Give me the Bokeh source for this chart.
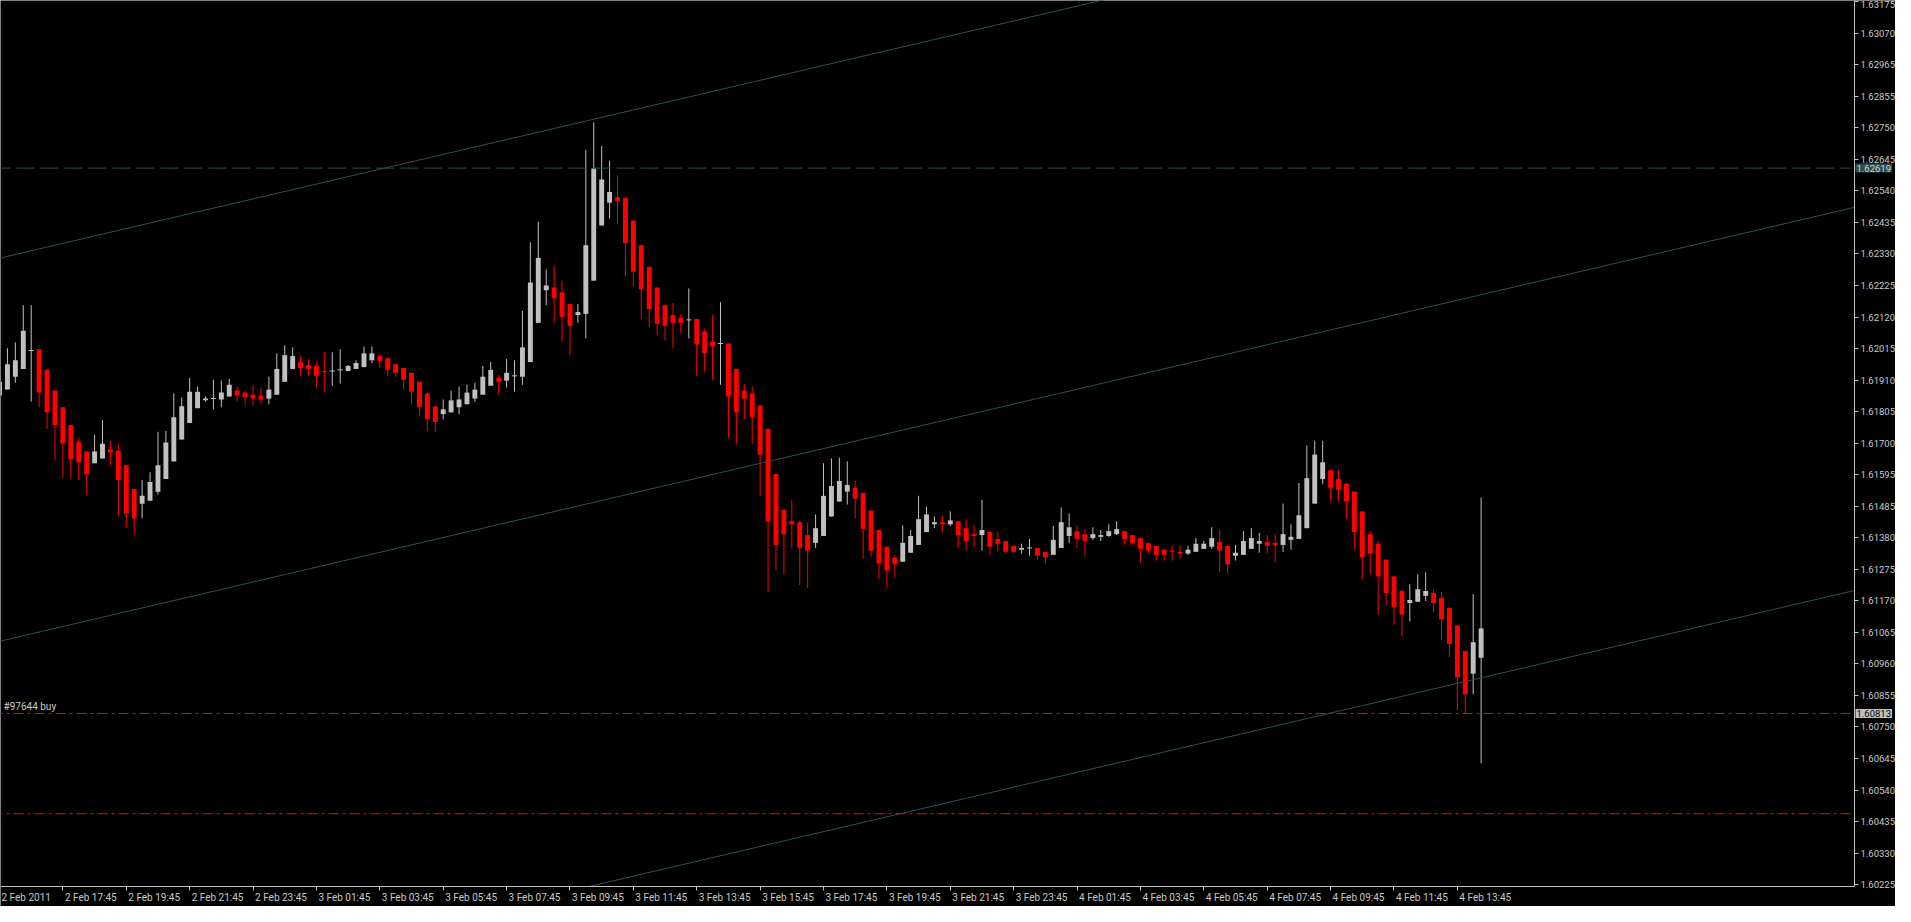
import numpy as np
import pandas as pd
from bokeh.plotting import figure
from bokeh.models import Range1d, FixedTicker, Label, LinearAxis
from bokeh.embed import file_html
from bokeh.resources import INLINE

# ---------------- data (M15 bars) ----------------
first_bar_time = "2011-02-02 15:45"
bar_freq = "15min"

opens = [1.61859, 1.61879, 1.61922, 1.61948, 1.62010, 1.62013, 1.61945, 1.61876, 1.61820, 1.61761,
         1.61705, 1.61672, 1.61633, 1.61649, 1.61679, 1.61675, 1.61626, 1.61547, 1.61498, 1.61508,
         1.61538, 1.61580, 1.61639, 1.61712, 1.61767, 1.61817, 1.61843, 1.61849, 1.61846, 1.61856,
         1.61876, 1.61869, 1.61862, 1.61859, 1.61849, 1.61862, 1.61905, 1.61948, 1.61971, 1.61961,
         1.61958, 1.61941, 1.61941, 1.61945, 1.61941, 1.61948, 1.61954, 1.61977, 1.61991, 1.61984,
         1.61964, 1.61951, 1.61935, 1.61905, 1.61866, 1.61823, 1.61797, 1.61803, 1.61820, 1.61830,
         1.61849, 1.61862, 1.61892, 1.61918, 1.61909, 1.61925, 1.61922, 1.61971, 1.62102, 1.62211,
         1.62220, 1.62204, 1.62165, 1.62128, 1.62132, 1.62243, 1.62427, 1.62503, 1.62522, 1.62519,
         1.62444, 1.62361, 1.62289, 1.62220, 1.62161, 1.62128, 1.62119, 1.62112, 1.62115, 1.62073,
         1.62040, 1.62033, 1.62033, 1.61948, 1.61876, 1.61866, 1.61826, 1.61748, 1.61597, 1.61478,
         1.61439, 1.61436, 1.61393, 1.61367, 1.61390, 1.61455, 1.61505, 1.61538, 1.61551, 1.61534,
         1.61475, 1.61410, 1.61354, 1.61318, 1.61304, 1.61334, 1.61360, 1.61403, 1.61429, 1.61436,
         1.61429, 1.61439, 1.61416, 1.61396, 1.61393, 1.61403, 1.61380, 1.61373, 1.61357, 1.61344,
         1.61350, 1.61350, 1.61337, 1.61327, 1.61350, 1.61390, 1.61406, 1.61396, 1.61383, 1.61387,
         1.61390, 1.61396, 1.61406, 1.61393, 1.61383, 1.61367, 1.61357, 1.61344, 1.61341, 1.61337,
         1.61331, 1.61337, 1.61347, 1.61354, 1.61370, 1.61357, 1.61324, 1.61327, 1.61347, 1.61364,
         1.61370, 1.61367, 1.61360, 1.61377, 1.61380, 1.61416, 1.61498, 1.61580, 1.61610, 1.61580,
         1.61564, 1.61538, 1.61472, 1.61396, 1.61364, 1.61311, 1.61255, 1.61206, 1.61166, 1.61170,
         1.61190, 1.61199, 1.61183, 1.61150, 1.61091, 1.61006, 1.60930, 1.60983]

highs = [1.61931, 1.62017, 1.62037, 1.62161, 1.62161, 1.62013, 1.61945, 1.61876, 1.61820, 1.61761,
         1.61718, 1.61672, 1.61728, 1.61777, 1.61708, 1.61698, 1.61626, 1.61547, 1.61577, 1.61603,
         1.61738, 1.61741, 1.61866, 1.61853, 1.61918, 1.61889, 1.61856, 1.61912, 1.61909, 1.61915,
         1.61889, 1.61876, 1.61892, 1.61886, 1.61922, 1.62000, 1.62027, 1.62020, 1.61991, 1.61981,
         1.61971, 1.62004, 1.62004, 1.62013, 1.61961, 1.61977, 1.62023, 1.62023, 1.61997, 1.61984,
         1.61964, 1.61951, 1.61935, 1.61905, 1.61866, 1.61823, 1.61846, 1.61876, 1.61889, 1.61895,
         1.61902, 1.61958, 1.61971, 1.61928, 1.61981, 1.61977, 1.62142, 1.62371, 1.62440, 1.62280,
         1.62293, 1.62243, 1.62165, 1.62165, 1.62680, 1.62772, 1.62693, 1.62644, 1.62595, 1.62519,
         1.62444, 1.62361, 1.62289, 1.62220, 1.62161, 1.62168, 1.62132, 1.62217, 1.62115, 1.62083,
         1.62128, 1.62171, 1.62033, 1.61948, 1.61899, 1.61889, 1.61826, 1.61748, 1.61597, 1.61478,
         1.61511, 1.61439, 1.61436, 1.61462, 1.61633, 1.61649, 1.61652, 1.61639, 1.61574, 1.61534,
         1.61475, 1.61410, 1.61354, 1.61327, 1.61426, 1.61410, 1.61524, 1.61488, 1.61455, 1.61459,
         1.61472, 1.61439, 1.61446, 1.61426, 1.61511, 1.61403, 1.61403, 1.61373, 1.61357, 1.61364,
         1.61380, 1.61350, 1.61337, 1.61423, 1.61485, 1.61465, 1.61426, 1.61413, 1.61419, 1.61410,
         1.61429, 1.61439, 1.61406, 1.61393, 1.61383, 1.61367, 1.61357, 1.61347, 1.61357, 1.61357,
         1.61357, 1.61383, 1.61373, 1.61419, 1.61410, 1.61357, 1.61360, 1.61406, 1.61416, 1.61400,
         1.61393, 1.61396, 1.61498, 1.61429, 1.61567, 1.61692, 1.61708, 1.61708, 1.61610, 1.61610,
         1.61567, 1.61538, 1.61472, 1.61406, 1.61373, 1.61311, 1.61255, 1.61209, 1.61229, 1.61262,
         1.61268, 1.61212, 1.61203, 1.61150, 1.61091, 1.61006, 1.61196, 1.61518]

lows = [1.61849, 1.61879, 1.61902, 1.61948, 1.61839, 1.61820, 1.61748, 1.61643, 1.61583, 1.61583,
        1.61577, 1.61528, 1.61633, 1.61649, 1.61626, 1.61455, 1.61416, 1.61393, 1.61449, 1.61508,
        1.61528, 1.61580, 1.61639, 1.61712, 1.61767, 1.61817, 1.61839, 1.61813, 1.61820, 1.61856,
        1.61839, 1.61830, 1.61826, 1.61833, 1.61830, 1.61862, 1.61905, 1.61948, 1.61925, 1.61925,
        1.61886, 1.61872, 1.61892, 1.61899, 1.61941, 1.61948, 1.61954, 1.61968, 1.61951, 1.61925,
        1.61922, 1.61879, 1.61830, 1.61790, 1.61741, 1.61738, 1.61780, 1.61803, 1.61797, 1.61830,
        1.61839, 1.61862, 1.61892, 1.61862, 1.61886, 1.61872, 1.61895, 1.61971, 1.62102, 1.62161,
        1.62102, 1.62040, 1.61994, 1.62102, 1.62050, 1.62243, 1.62427, 1.62450, 1.62431, 1.62256,
        1.62224, 1.62115, 1.62089, 1.62060, 1.62043, 1.62017, 1.62066, 1.62050, 1.61925, 1.61938,
        1.61912, 1.61895, 1.61718, 1.61695, 1.61780, 1.61698, 1.61524, 1.61203, 1.61275, 1.61262,
        1.61350, 1.61226, 1.61216, 1.61350, 1.61390, 1.61455, 1.61505, 1.61495, 1.61449, 1.61314,
        1.61321, 1.61245, 1.61216, 1.61252, 1.61304, 1.61334, 1.61360, 1.61403, 1.61416, 1.61403,
        1.61423, 1.61350, 1.61341, 1.61354, 1.61341, 1.61327, 1.61341, 1.61331, 1.61331, 1.61331,
        1.61324, 1.61311, 1.61298, 1.61327, 1.61350, 1.61367, 1.61350, 1.61324, 1.61377, 1.61373,
        1.61387, 1.61393, 1.61360, 1.61360, 1.61301, 1.61331, 1.61308, 1.61308, 1.61308, 1.61314,
        1.61327, 1.61337, 1.61347, 1.61347, 1.61268, 1.61265, 1.61308, 1.61327, 1.61347, 1.61334,
        1.61331, 1.61301, 1.61337, 1.61344, 1.61380, 1.61416, 1.61498, 1.61564, 1.61505, 1.61505,
        1.61446, 1.61344, 1.61245, 1.61262, 1.61127, 1.61157, 1.61094, 1.61055, 1.61104, 1.61170,
        1.61173, 1.61134, 1.61042, 1.60986, 1.60809, 1.60799, 1.60861, 1.60631]

closes = [1.61905, 1.61964, 1.61977, 1.62076, 1.62010, 1.61869, 1.61803, 1.61761, 1.61698, 1.61646,
          1.61636, 1.61597, 1.61672, 1.61698, 1.61669, 1.61577, 1.61465, 1.61449, 1.61524, 1.61570,
          1.61626, 1.61702, 1.61787, 1.61823, 1.61872, 1.61872, 1.61849, 1.61849, 1.61869, 1.61895,
          1.61859, 1.61853, 1.61849, 1.61846, 1.61879, 1.61948, 1.61994, 1.61991, 1.61951, 1.61948,
          1.61925, 1.61938, 1.61941, 1.61945, 1.61958, 1.61968, 1.62000, 1.62000, 1.61974, 1.61945,
          1.61935, 1.61912, 1.61872, 1.61820, 1.61780, 1.61771, 1.61813, 1.61843, 1.61846, 1.61869,
          1.61879, 1.61922, 1.61945, 1.61905, 1.61935, 1.61925, 1.62020, 1.62237, 1.62319, 1.62227,
          1.62184, 1.62122, 1.62092, 1.62138, 1.62361, 1.62618, 1.62581, 1.62539, 1.62509, 1.62368,
          1.62273, 1.62214, 1.62148, 1.62099, 1.62092, 1.62102, 1.62102, 1.62112, 1.62030, 1.62000,
          1.62023, 1.62033, 1.61856, 1.61803, 1.61849, 1.61787, 1.61662, 1.61439, 1.61360, 1.61396,
          1.61429, 1.61350, 1.61341, 1.61416, 1.61524, 1.61557, 1.61574, 1.61560, 1.61515, 1.61413,
          1.61341, 1.61298, 1.61275, 1.61295, 1.61367, 1.61390, 1.61446, 1.61462, 1.61436, 1.61429,
          1.61442, 1.61393, 1.61373, 1.61390, 1.61410, 1.61354, 1.61364, 1.61337, 1.61337, 1.61350,
          1.61350, 1.61324, 1.61318, 1.61377, 1.61436, 1.61419, 1.61380, 1.61373, 1.61396, 1.61393,
          1.61406, 1.61413, 1.61380, 1.61367, 1.61347, 1.61341, 1.61327, 1.61327, 1.61337, 1.61331,
          1.61344, 1.61364, 1.61364, 1.61383, 1.61341, 1.61295, 1.61334, 1.61373, 1.61383, 1.61373,
          1.61357, 1.61360, 1.61396, 1.61387, 1.61459, 1.61583, 1.61662, 1.61636, 1.61551, 1.61544,
          1.61505, 1.61403, 1.61318, 1.61331, 1.61255, 1.61199, 1.61153, 1.61127, 1.61176, 1.61212,
          1.61206, 1.61166, 1.61111, 1.61029, 1.60917, 1.60861, 1.61035, 1.61081]

price_tick_labels = ["1.63175", "1.63070", "1.62965", "1.62855", "1.62750", "1.62645", "1.62540",
                     "1.62435", "1.62330", "1.62225", "1.62120", "1.62015", "1.61910", "1.61805",
                     "1.61700", "1.61595", "1.61485", "1.61380", "1.61275", "1.61170", "1.61065",
                     "1.60960", "1.60855", "1.60750", "1.60645", "1.60540", "1.60435", "1.60330",
                     "1.60225"]

# regression channel: middle line anchors and half width
channel_anchor_bars = [0, 187]
channel_mid_prices = [1.61038, 1.62196]
channel_half_width = 0.01280

# horizontal levels
dashed_level = 1.62619
dashed_level_text = "1.62619"
order_level = 1.60797
order_level_text = "1.60813"
order_label = "#97644 buy"
stop_level = 1.60462

# ---------------- layout / styling ----------------
W, H = 1895, 906
PRICE_AXIS_PX = 41          # room right of the price axis for its labels
view_bar_min = 0.125
axis_bar = 234.125          # bar position where the price axis is drawn
px_per_bar = (W - PRICE_AXIS_PX) / (axis_bar - view_bar_min)
view_bar_max = view_bar_min + W / px_per_bar
view_price_min, view_price_max = 1.60152, 1.63179
axis_price = 1.60218        # price where the time axis is drawn

BG = "#000000"
BULL = "#C0C0C0"
BEAR = "#FF0000"
AXIS = "#C0C0C0"
TEXT = "#C8C8C8"
CHANNEL = "#2F4F4F"
FONT = "Roboto"
FS = "10px"
FS_PRICE = "9.5px"

n = len(opens)
bars = np.arange(n)
o = np.array(opens); h = np.array(highs); l = np.array(lows); c = np.array(closes)
colors = [BULL if cc >= oo else BEAR for oo, cc in zip(o, c)]

p = figure(width=W, height=H, output_backend="svg", toolbar_location=None,
           x_range=Range1d(view_bar_min, view_bar_max),
           y_range=Range1d(view_price_min, view_price_max),
           x_axis_location=None, y_axis_location=None,
           background_fill_color=BG, border_fill_color=BG,
           outline_line_color=None, min_border=0)
p.grid.visible = False

# candles
px_price = (view_price_max - view_price_min) / H
mid = (o + c) / 2
top = np.maximum(o, c)
bot = np.minimum(o, c)
small = (top - bot) < px_price
top = np.where(small, mid + px_price / 2, top)
bot = np.where(small, mid - px_price / 2, bot)

p.segment(x0=bars, y0=l, x1=bars, y1=h, line_color=colors, line_width=1)
p.vbar(x=bars, width=0.62, top=top, bottom=bot, fill_color=colors, line_color=None)

# channel lines (kept inside the axes box)
slope = (channel_mid_prices[1] - channel_mid_prices[0]) / (channel_anchor_bars[1] - channel_anchor_bars[0])
for off in (-channel_half_width, 0.0, channel_half_width):
    base = channel_mid_prices[0] + off
    x_start = view_bar_min - 1
    x_hit = channel_anchor_bars[0] + (axis_price - base) / slope
    x_start = max(x_start, x_hit)
    xs = np.array([x_start, axis_bar])
    p.line(xs, base + slope * (xs - channel_anchor_bars[0]), line_color=CHANNEL, line_width=1)

# horizontal levels
hx = [view_bar_min - 1, axis_bar - 0.5]
p.line(hx, [dashed_level] * 2, line_color=CHANNEL, line_width=1, line_dash="18 6")
p.line(hx, [order_level] * 2, line_color=BEAR, line_width=1, line_dash="10 4 3 4")
p.line(hx, [stop_level] * 2, line_color=BEAR, line_width=1, line_dash="10 4 3 4")

p.add_layout(Label(x=0, y=order_level, x_offset=4, y_offset=1, text=order_label,
                   text_color=TEXT, text_font=FONT, text_font_size=FS,
                   text_baseline="bottom", text_align="left"))

# price axis (drawn at a fixed bar position)
tick_vals = [round(float(v), 8) for v in np.linspace(float(price_tick_labels[0]),
                                                        float(price_tick_labels[-1]),
                                                        len(price_tick_labels))]
ya = LinearAxis(fixed_location=axis_bar, bounds=(axis_price, view_price_max))
ya.ticker = FixedTicker(ticks=tick_vals)
ya.major_label_overrides = {v: s for v, s in zip(tick_vals, price_tick_labels)}
p.add_layout(ya, "right")

# time axis
times = pd.date_range(first_bar_time, periods=n, freq=bar_freq)
tick_bars = [int(i) for i, t in enumerate(times) if t.minute == 45 and t.hour % 2 == 1]
time_labels = []
for k, i in enumerate(tick_bars):
    t = times[i]
    time_labels.append(f"{t.day} {t:%b %Y}" if k == 0 else f"{t.day} {t:%b %H:%M}")
xa = LinearAxis(fixed_location=axis_price, bounds=(view_bar_min - 1, axis_bar))
xa.ticker = FixedTicker(ticks=tick_bars)
xa.major_label_overrides = {i: "" for i in tick_bars}
p.add_layout(xa, "below")
for i, s in zip(tick_bars, time_labels):
    p.add_layout(Label(x=i, y=axis_price, x_offset=2, y_offset=-5, text=s,
                       text_color=TEXT, text_font=FONT, text_font_size=FS,
                       text_baseline="top", text_align="left"))

for ax in (xa, ya):
    ax.axis_line_color = AXIS
    ax.major_tick_line_color = AXIS
    ax.minor_tick_line_color = None
    ax.major_tick_out = 4
    ax.major_tick_in = 0
    ax.major_label_text_color = TEXT
    ax.major_label_text_font = FONT
    ax.major_label_standoff = 2
xa.major_label_text_font_size = FS
ya.major_label_text_font_size = FS_PRICE

# price boxes on the price axis
p.add_layout(Label(x=axis_bar, y=dashed_level, x_offset=1, text=dashed_level_text,
                   text_color="#D0D0D0", text_font=FONT, text_font_size=FS_PRICE,
                   text_baseline="middle", text_align="left",
                   background_fill_color=CHANNEL, padding=1))
p.add_layout(Label(x=axis_bar, y=order_level, x_offset=1, text=order_level_text,
                   text_color="#000000", text_font=FONT, text_font_size=FS_PRICE,
                   text_baseline="middle", text_align="left",
                   background_fill_color="#C0C0C0", padding=1))

open("out.html", "w").write(file_html(p, INLINE))
